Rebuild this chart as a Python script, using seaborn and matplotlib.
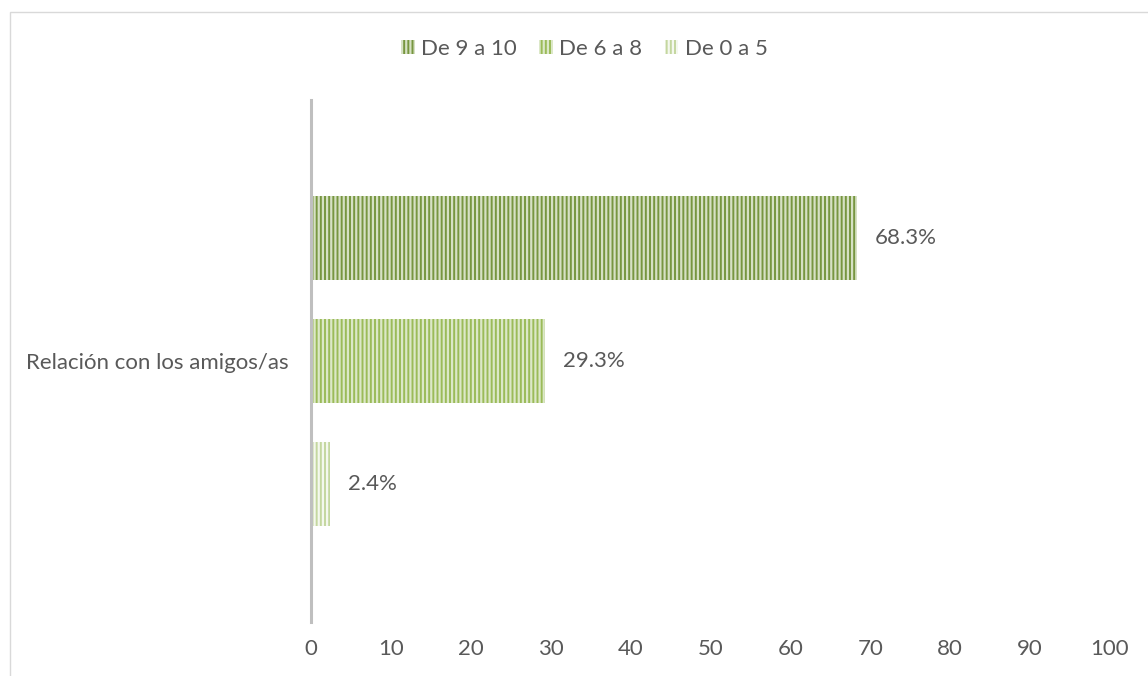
import pandas as pd
import matplotlib.pyplot as plt
import matplotlib.patches as mpatches
import seaborn as sns

categories = ["Relación con los amigos/as"]
series = ["De 9 a 10", "De 6 a 8", "De 0 a 5"]
values = [68.3, 29.3, 2.4]

face_colors = ["#779640", "#9bbb59", "#c4d79f"]
stripe_colors = ["#d6e1c4", "#dce8c8", "#f4f8ee"]

sns.set_theme(style="white")
plt.rcParams['font.family'] = ['Lato', 'DejaVu Sans']
plt.rcParams['hatch.linewidth'] = 1.6
text_color = "#595959"
fs = 16

df = pd.DataFrame({
    "categoria": categories * len(series),
    "serie": series,
    "valor": values,
})

fig = plt.figure(figsize=(11.48, 6.76), dpi=100)
ax = fig.add_axes([0.2709, 0.0799, 0.6960, 0.7722])

sns.barplot(data=df, x="valor", y="categoria", hue="serie", hue_order=series,
            orient="h", palette=face_colors, width=0.707, gap=0.32,
            linewidth=0, ax=ax)

for cont, fc, sc in zip(ax.containers, face_colors, stripe_colors):
    for bar in cont:
        bar.set_facecolor(fc)
        bar.set_edgecolor(sc)
        bar.set_hatch("||||")
        bar.set_linewidth(0)
    ax.bar_label(cont, fmt="{:.1f}%", padding=13, fontsize=fs, color=text_color)

ax.set_xlim(0, 100)
ax.set_ylim(0.5, -0.5)
ax.set_xticks(range(0, 101, 10))
ax.set_xlabel("")
ax.set_ylabel("")
ax.tick_params(axis="both", length=0, labelsize=fs, colors=text_color)
ax.tick_params(axis="y", pad=16)
ax.tick_params(axis="x", pad=12)
for side in ["top", "right", "bottom"]:
    ax.spines[side].set_visible(False)
ax.spines["left"].set_color("#bfbfbf")
ax.spines["left"].set_linewidth(2.2)

handles = []
for fc, sc, lab in zip(face_colors, stripe_colors, series):
    handles.append(mpatches.Patch(facecolor=fc, edgecolor=sc, hatch="||||",
                                  linewidth=0, label=lab))
ax.legend(handles=handles, loc="center", bbox_to_anchor=(0.509, 0.928),
          bbox_transform=fig.transFigure, ncol=3, frameon=False,
          fontsize=fs, labelcolor=text_color, handlelength=0.6,
          handleheight=0.6, handletextpad=0.3, columnspacing=1.0)

# chart border
fig.patches.append(mpatches.Rectangle((10 / 1148, -0.05), 1.2, 1 - 12 / 676 + 0.05,
                                      transform=fig.transFigure, fill=False,
                                      edgecolor="#d9d9d9", linewidth=1))

plt.savefig("out.png", dpi=100)
